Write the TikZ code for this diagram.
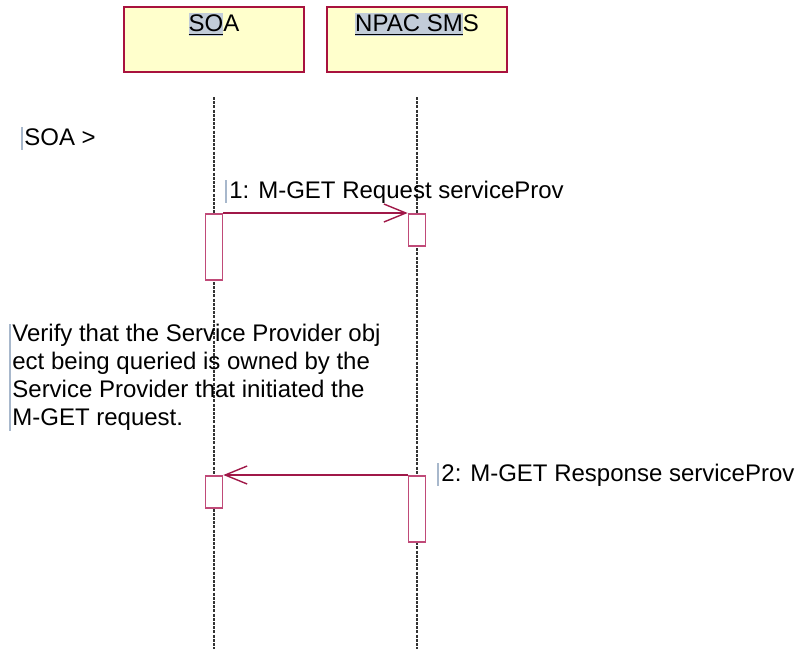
\documentclass[tikz,border=0pt]{standalone}
\usepackage{fontspec}
\setmainfont{Liberation Sans}
\usetikzlibrary{arrows.meta, positioning}
\definecolor{boxfill}{HTML}{FFFFCC}
\definecolor{boxline}{HTML}{A8123E}
\definecolor{msgline}{HTML}{A01848}
\definecolor{actline}{HTML}{C04A78}
\definecolor{hilite}{HTML}{C2CCD8}
\definecolor{caretcol}{HTML}{A8B8CC}
\tikzset{
	actor/.style={draw=boxline, fill=boxfill, line width=0.7pt, minimum width=90pt, minimum height=32.5pt, inner sep=0pt},
	actorname/.style={font=\fontsize{12}{14}\selectfont, inner sep=0pt, anchor=north},
	lifeline/.style={draw=gray!40!black, line width=0.6pt, dash pattern=on 1.5pt off 0.6pt},
	activation/.style={draw=actline, fill=white, line width=0.8pt, minimum width=8.5pt, inner sep=0pt, anchor=north},
	msg/.style={draw=msgline, line width=0.7pt, -{Straight Barb[length=11pt,width=9pt,line width=0.7pt]}},
	txt/.style={font=\fontsize{12}{14}\selectfont, inner sep=0pt, anchor=base west},
	caret/.style={draw=caretcol, line width=0.6pt}
}
\newcommand{\hl}[1]{{\fboxsep=0pt\colorbox{hilite}{\underline{#1}\rule[-1.5pt]{0pt}{11pt}}}}

\begin{document}
\begin{tikzpicture}[x=0.5pt, y=-0.5pt]
	\useasboundingbox (0,0) rectangle (796,649);
	% actors
	\node[actor] (soa) at (214,39.5) {};
	\node[actor] (npac) at (417,39.5) {};
	\node[actorname, below=3pt of soa.north] (soaname) {\hl{SO}A};
	\node[actorname, below=3pt of npac.north] (npacname) {\hl{NPAC SM}S};
	% lifelines
	\coordinate (soaTop) at (214,97);
	\coordinate (soaBot) at (214,649);
	\coordinate (npacTop) at (417,97);
	\coordinate (npacBot) at (417,649);
	\draw[lifeline] (soaTop) -- (soaBot);
	\draw[lifeline] (npacTop) -- (npacBot);
	% state
	\node[txt] (state) at (24,145) {SOA >};
	\draw[caret] ([xshift=-1pt,yshift=9pt]state.base west) -- ([xshift=-1pt,yshift=-2.5pt]state.base west);
	% first message
	\node[activation, minimum height=33pt] (sa1) at (214,213) {};
	\node[activation, minimum height=16pt] (na1) at (417,213) {};
	\draw[msg] (sa1.north east) -- (na1.north west);
	\node[txt] (m1) at (229,198) {1: M-GET Request serviceProv};
	\draw[caret] ([xshift=-1.5pt,yshift=9pt]m1.base west) -- ([xshift=-1.5pt,yshift=-2.5pt]m1.base west);
	% note
	\node[txt, anchor=north west, align=left] (note) at (12,324) {Verify that the Service Provider obj\\ect being queried is owned by the\\Service Provider that initiated the\\M-GET request.};
	\draw[caret] ([xshift=-1pt]note.north west) -- ([xshift=-1pt]note.south west);
	% second message
	\node[activation, minimum height=16pt] (sa2) at (214,475) {};
	\node[activation, minimum height=33pt] (na2) at (417,475) {};
	\draw[msg] (na2.north west) -- (sa2.north east);
	\node[txt] (m2) at (441,481) {2: M-GET Response serviceProv};
	\draw[caret] ([xshift=-1.5pt,yshift=9pt]m2.base west) -- ([xshift=-1.5pt,yshift=-2.5pt]m2.base west);
\end{tikzpicture}
\end{document}
